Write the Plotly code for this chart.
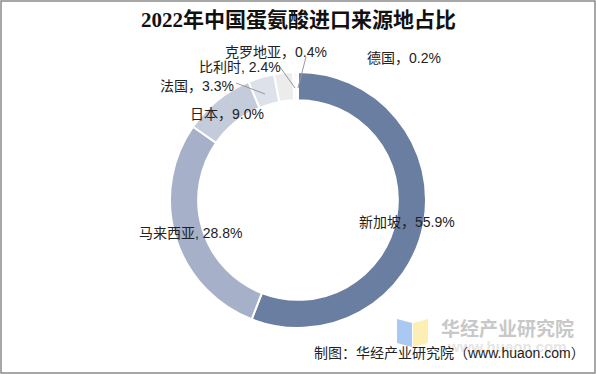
import plotly.graph_objects as go

countries = ["新加坡", "马来西亚", "日本", "法国", "比利时", "克罗地亚", "德国"]
shares = [55.9, 28.8, 9.0, 3.3, 2.4, 0.4, 0.2]
seps = ["，", ", ", "，", "，", ", ", "，", "，"]
colors = ["#6a7ea2", "#a6b1c9", "#c4cbdb", "#dde1ea", "#ececec", "#f4f4f4", "#fafafa"]

W, H = 596, 374
cx, cy, R = 298, 200, 128

fig = go.Figure(go.Pie(
    labels=countries, values=shares, sort=False, direction="clockwise",
    rotation=0, hole=0.78, textinfo="none", hoverinfo="label+percent",
    marker=dict(colors=colors, line=dict(color="white", width=2)),
    domain=dict(x=[(cx - R) / W, (cx + R) / W], y=[(H - cy - R) / H, (H - cy + R) / H]),
    showlegend=False,
))

# label pixel positions (center) and optional leader line endpoints
label_pos = [(407, 222), (190, 233), (227, 114), (197, 86), (240, 67), (276, 52), (404, 58)]
leaders = {3: ((236, 83), (265, 94)), 4: ((280, 67), (295, 88)), 5: ((306, 57), (298, 88))}

font = "Liberation Sans, Noto Sans CJK SC, sans-serif"


def A(x, y, text, size, color, family):
    return dict(x=x / W, y=1 - y / H, xref="paper", yref="paper", showarrow=False,
                xanchor="center", yanchor="middle", text=text,
                font=dict(size=size, color=color, family=family))


ann = []
shapes = []
for i, (c, v) in enumerate(zip(countries, shares)):
    x, y = label_pos[i]
    ann.append(A(x, y, f"{c}{seps[i]}{v:.1f}%", 14, "#222", font))
    if i in leaders:
        (x0, y0), (x1, y1) = leaders[i]
        shapes.append(dict(type="line", xref="paper", yref="paper", x0=x0 / W, y0=1 - y0 / H,
                           x1=x1 / W, y1=1 - y1 / H, line=dict(color="#999", width=1)))

# title
ann.append(A(298, 20, "<b>2022年中国蛋氨酸进口来源地占比</b>", 21, "#111",
             "Liberation Serif, Noto Sans CJK SC, serif"))

# watermark logo
shapes.append(dict(type="path", xref="paper", yref="paper",
                   path=f"M {397/W},{1-319/H} L {412/W},{1-323/H} L {412/W},{1-347/H} L {397/W},{1-343/H} Z",
                   fillcolor="#aac9f2", line=dict(width=0)))
shapes.append(dict(type="path", xref="paper", yref="paper",
                   path=f"M {413/W},{1-323/H} L {428/W},{1-319/H} L {428/W},{1-343/H} L {413/W},{1-347/H} Z",
                   fillcolor="#fcefb4", line=dict(width=0)))
ann.append(A(507, 327, "<b>华经产业研究院</b>", 19, "#c8c8c8", "Noto Sans CJK SC"))
ann.append(A(507, 346, "<b>www.huaon.com</b>", 15, "#e6e6e6", "Liberation Sans"))

# footer
ann.append(A(449, 353, "制图：华经产业研究院（www.huaon.com）", 14, "#222", font))

# frame
shapes.append(dict(type="rect", xref="paper", yref="paper", x0=1 / W, y0=1 / H, x1=1 - 1 / W, y1=1 - 1 / H,
                   line=dict(color="#8a8a8a", width=1.5)))

fig.update_layout(width=W, height=H, margin=dict(l=0, r=0, t=0, b=0),
                  paper_bgcolor="white", plot_bgcolor="white",
                  annotations=ann, shapes=shapes)
fig.write_html("out.html", post_script="document.body.style.margin='0';",
               config={"displayModeBar": False})
